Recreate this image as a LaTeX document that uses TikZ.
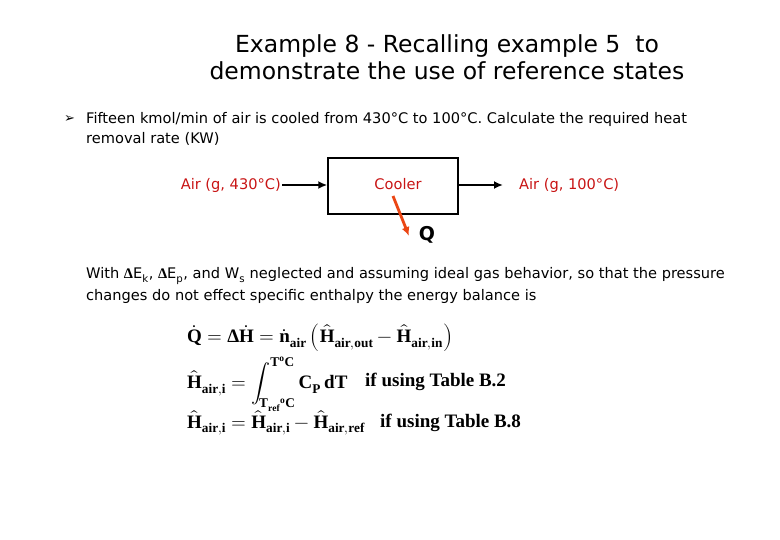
\documentclass[tikz,border=0pt]{standalone}
\usetikzlibrary{arrows.meta}
\usepackage{amsmath}
\usepackage{fontspec}
\setmainfont{DejaVu Sans}
\newfontfamily\eqfont{Liberation Serif}
\usepackage{unicode-math}
\setmathfont{Latin Modern Math}
\setmathfont[range={up/{Latin,latin,Greek,greek},bfup/{Latin,latin,Greek,greek}}]{Liberation Serif Bold}
\begin{document}
\begin{tikzpicture}[x=1pt,y=-1pt,
  txt/.style={anchor=west,inner sep=0,font=\fontsize{14.6}{16}\selectfont},
  red/.style={text={rgb,255:red,200;green,20;blue,20},font=\fontsize{14.6}{16}\selectfont,inner sep=1pt},
  eq/.style={anchor=west,inner sep=0,font=\fontsize{19}{22}\selectfont\bfseries},
  arr/.style={line width=2.2pt,-{Latex[length=9pt,width=8pt]}}]
\useasboundingbox (0,0) rectangle (780,540);
\node[font=\fontsize{23.5}{28}\selectfont,align=center] (title) at (447,57) {Example 8 - Recalling example 5\ \ to\\[-1pt]demonstrate the use of reference states};
\node[txt] (bul) at (64,119) {\fontsize{13}{14}\selectfont➢};
\node[txt] (p1) at (86,119) {Fifteen kmol/min of air is cooled from 430\textdegree C to 100\textdegree C. Calculate the required heat};
\node[txt] (p2) at (86,139) {removal rate (KW)};
\node[draw,line width=1.5pt,minimum width=130pt,minimum height=56pt] (box) at (393,186) {};
\node[red] (cool) at (398,184) {Cooler};
\node[red,anchor=east] (in) at (282,185) {Air (g, 430\textdegree C)};
\node[red,anchor=west] (out) at (518,185) {Air (g, 100\textdegree C)};
\draw[arr] (in.east) -- (box.west |- in.east);
\coordinate (oe) at (503,185);
\draw[arr] (box.east |- out.west) -- (oe);
\coordinate (qe) at (409,236);
\draw[arr,line width=2.8pt,color={rgb,255:red,235;green,70;blue,20}] (393,196) -- (qe);
\node[font=\fontsize{19}{20}\selectfont\bfseries] (q) at (427,235) {Q};
\node[txt] (w1) at (86,276) {With $\Delta$E\textsubscript{k}, $\Delta$E\textsubscript{p}, and W\textsubscript{s} neglected and assuming ideal gas behavior, so that the pressure};
\node[txt] (w2) at (86,296) {changes do not effect specific enthalpy the energy balance is};
\node[eq] (e1) at (187,338) {$\symbfup{\dot{Q}} = \symbfup{\Delta\dot{H}} = \symbfup{\dot{n}}_{\mathbfup{air}}\left(\symbfup{\hat{H}}_{\mathbfup{air,out}} - \symbfup{\hat{H}}_{\mathbfup{air,in}}\right)$};
\node[eq] (e2) at (187,384) {$\symbfup{\hat{H}}_{\mathbfup{air,i}} = \displaystyle\int_{\mathbfup{T}_{\mathbfup{ref}}{}^{\mathbfup{o}}\mathbfup{C}}^{\mathbfup{T}^{\mathbfup{o}}\mathbfup{C}} \mathbfup{C}_{\mathbfup{P}}\,\mathbfup{dT}$};
\node[eq] (t2) at (365,382) {\eqfont\bfseries if using Table B.2};
\node[eq] (e3) at (187,423) {$\symbfup{\hat{H}}_{\mathbfup{air,i}} = \symbfup{\hat{H}}_{\mathbfup{air,i}} - \symbfup{\hat{H}}_{\mathbfup{air,ref}}$};
\node[eq] (t3) at (380,423) {\eqfont\bfseries if using Table B.8};
\end{tikzpicture}
\end{document}
